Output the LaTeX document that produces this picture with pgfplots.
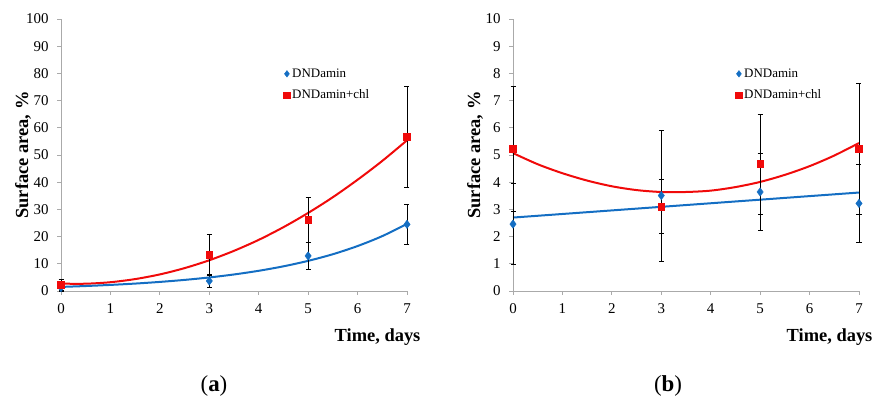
\documentclass[border=0pt]{standalone}
\usepackage{fontspec}
\setmainfont{Liberation Serif}
\usepackage{pgfplots}
\pgfplotsset{compat=1.18}
\definecolor{xblue}{RGB}{20,110,195}
\definecolor{xred}{RGB}{240,10,10}
\definecolor{axgray}{RGB}{170,170,170}

\pgfplotsset{
  panel/.style={
    scale only axis, width=346bp, height=272bp,
    anchor=south west,
    axis lines=left, axis line style={-, axgray, line width=0.8bp},
    tick style={axgray, line width=0.8bp}, tick align=outside,
    major tick length=4bp,
    xmin=0, xmax=7, xtick={0,...,7},
    /pgf/number format/assume math mode=true,
    ticklabel style={font=\fontsize{15}{17}\selectfont},
    xticklabel style={yshift=-5bp},
    yticklabel style={xshift=-5bp},
    label style={font=\bfseries\fontsize{18.5}{20}\selectfont},
    ylabel style={at={(axis description cs:-0.11,0.5)}, anchor=center},
    xlabel style={at={(axis description cs:1.049,-0.17)}, anchor=east},
    legend style={draw=none, fill=none, font=\fontsize{13}{15}\selectfont,
      inner sep=0pt, row sep=7bp, legend cell align=left},
    legend image code/.code={\draw[mark repeat=2,mark phase=2,#1,mark size=3.3bp]
      plot coordinates {(0bp,0bp) (3bp,0bp) (6bp,0bp)};},
    error bars/error bar style={black, line width=0.8bp},
    error bars/error mark options={rotate=90, mark size=2.5bp, black, line width=0.8bp},
    clip=false,
  },
  blueser/.style={only marks, mark=diamond*, mark size=4.2bp, color=xblue,
    error bars/.cd, y dir=both, y explicit},
  redser/.style={only marks, mark=square*, mark size=3.4bp, color=xred,
    error bars/.cd, y dir=both, y explicit},
}

\begin{document}
\begin{tikzpicture}
\useasboundingbox (0,0) rectangle (879bp,403bp);

% panel (a)
\begin{axis}[panel, at={(61bp,112bp)},
  ymin=0, ymax=100, ytick={0,10,...,100},
  xlabel={Time, days}, ylabel={Surface area, \%},
  legend style={at={(axis cs:4.5,82.5)}, anchor=north west}]
\addplot[xred, line width=2bp, smooth, forget plot] coordinates {
  (0,2.7) (0.5,2.68) (1,3.23) (1.5,4.38) (2,6.1) (2.5,8.41) (3,11.3)
  (3.5,14.77) (4,18.8) (4.5,23.46) (5,28.7) (5.5,34.48) (6,40.9)
  (6.5,47.83) (7,55.4)};
\addplot[xblue, line width=2bp, smooth, forget plot] coordinates {
  (0,1.5) (0.5,1.83) (1,2.24) (1.5,2.73) (2,3.34) (2.5,4.08) (3,4.98)
  (3.5,6.08) (4,7.43) (4.5,9.07) (5,11.08) (5.5,13.52) (6,16.53)
  (6.5,20.18) (7,24.66)};
\addplot[blueser] table[y error=e] {
x y e
0 1.25 1.5
3 3.7 2.2
5 12.9 5.0
7 24.5 7.3
};
\addplot[redser] table[y error=e] {
x y e
0 2.3 1.9
3 13.4 7.3
5 26.1 8.2
7 56.6 18.6
};
\legend{DNDamin, DNDamin+chl}
\end{axis}

% panel (b)
\begin{axis}[panel, at={(513bp,112bp)},
  ymin=0, ymax=10, ytick={0,1,...,10},
  xlabel={Time, days}, ylabel={Surface area, \%},
  legend style={at={(axis cs:4.5,8.25)}, anchor=north west}]
\addplot[xred, line width=2bp, smooth, forget plot] coordinates {
  (0,5.07) (0.5,4.66) (1,4.33) (1.5,4.06) (2,3.85) (2.5,3.71) (3,3.64)
  (3.5,3.64) (4,3.69) (4.5,3.82) (5,4.01) (5.5,4.27) (6,4.59)
  (6.5,4.98) (7,5.44)};
\addplot[xblue, line width=2bp, forget plot] coordinates {(0,2.70) (7,3.62)};
\addplot[blueser] table[y error=e] {
x y e
0 2.46 1.48
3 3.51 2.41
5 3.64 1.43
7 3.22 1.43
};
\addplot[redser] table[y error=e] {
x y e
0 5.22 2.29
3 3.11 1.01
5 4.67 1.84
7 5.23 2.42
};
\legend{DNDamin, DNDamin+chl}
\end{axis}

\node[font=\fontsize{23}{26}\selectfont] at (214bp,17bp) {(\textbf{a})};
\node[font=\fontsize{23}{26}\selectfont] at (668bp,17bp) {(\textbf{b})};
\end{tikzpicture}
\end{document}
